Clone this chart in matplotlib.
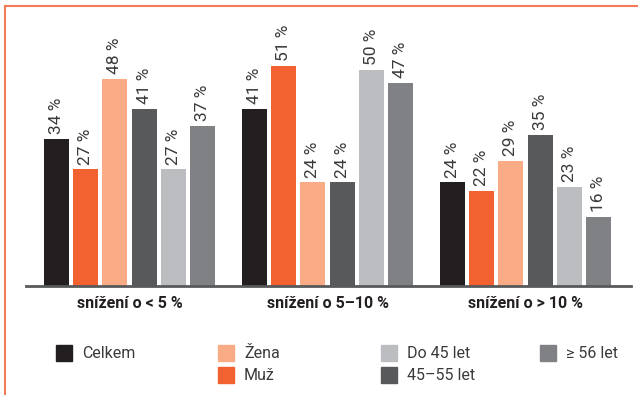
import matplotlib
matplotlib.use("Agg")
import matplotlib.pyplot as plt
from matplotlib.patches import Rectangle
from matplotlib.lines import Line2D

plt.rcParams['font.family'] = ['Roboto', 'DejaVu Sans']

# data
skupiny = ['snížení o < 5 %', 'snížení o 5–10 %', 'snížení o > 10 %']
serie = ['Celkem', 'Muž', 'Žena', '45–55 let', 'Do 45 let', '≥ 56 let']
celkem = [34, 41, 24]
muz = [27, 51, 22]
zena = [48, 24, 29]
vek_45_55 = [41, 24, 35]
do_45 = [27, 50, 23]
nad_56 = [37, 47, 16]
hodnoty = [celkem, muz, zena, vek_45_55, do_45, nad_56]
barvy = ['#231f20', '#f26130', '#f8ab85', '#58595b', '#bcbdc0', '#808184']

W, H = 638, 395
fig = plt.figure(figsize=(W / 100, H / 100), dpi=100)

def fx(px):
    return px / W

def fy(py):
    return (H - py) / H

# axes: baseline at y=286 px, 4.32 px per %
y_top = 286 - 60 * 4.32
ax = fig.add_axes([fx(26), fy(286), fx(631) - fx(26), fy(y_top) - fy(286)])
ax.set_xlim(-0.523, 2.533)
ax.set_ylim(0, 60)

krok = 29.2 / 198
sirka = 25 / 198
text_barva = '#3a3a3a'
for i, (vals, c) in enumerate(zip(hodnoty, barvy)):
    xs = [g + (i - 2.5) * krok for g in range(len(skupiny))]
    ax.bar(xs, vals, width=sirka, color=c, zorder=2)
    for x, v in zip(xs, vals):
        ax.text(x, v + 1.1, f'{v} %', rotation=90, ha='center', va='bottom',
                fontsize=12.5, color=text_barva)

for s in ['top', 'right', 'left']:
    ax.spines[s].set_visible(False)
ax.spines['bottom'].set_color('#58595b')
ax.spines['bottom'].set_linewidth(2)
ax.spines['bottom'].set_zorder(3)
ax.set_xticks([])
ax.set_yticks([])

for g, nazev in enumerate(skupiny):
    ax.text(g, -(304 - 286) / (286 - y_top), nazev, transform=ax.get_xaxis_transform(),
            ha='center', va='center', fontsize=11.5, fontweight='bold', color='#231f20')

# legend drawn by hand in four columns
pozice = {
    'Celkem': (56, 345),
    'Žena': (218, 345),
    'Muž': (218, 367),
    'Do 45 let': (381, 345),
    '45–55 let': (381, 367),
    '≥ 56 let': (540, 345),
}
for nazev, c in zip(serie, barvy):
    px, py = pozice[nazev]
    fig.add_artist(Rectangle((fx(px), fy(py + 16)), fx(16), 16 / H,
                             transform=fig.transFigure, color=c))
    fig.text(fx(px + 26), fy(py + 8), nazev, ha='left', va='center',
             fontsize=11.5, color=text_barva)

# orange frame
oranz = '#f37c57'
fig.add_artist(Line2D([fx(5), 1], [fy(6), fy(6)], transform=fig.transFigure,
                      color=oranz, lw=1.5))
fig.add_artist(Line2D([fx(5), fx(5)], [0, fy(6)], transform=fig.transFigure,
                      color=oranz, lw=1.5))

fig.savefig('out.png', dpi=100)
